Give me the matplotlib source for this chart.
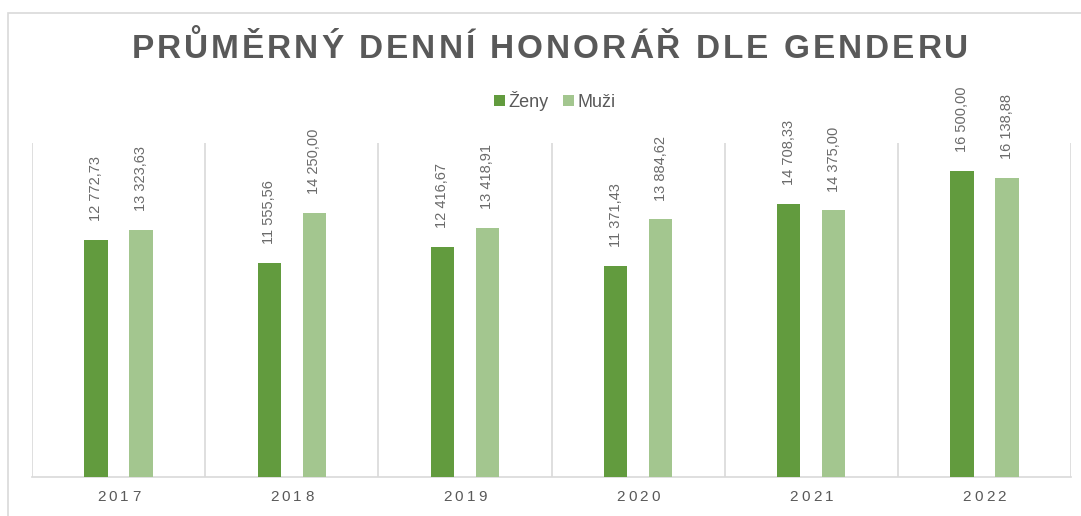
import matplotlib.pyplot as plt
import numpy as np
from matplotlib.patches import Rectangle

# data
roky = ["2017", "2018", "2019", "2020", "2021", "2022"]
zeny = [12772.73, 11555.56, 12416.67, 11371.43, 14708.33, 16500.00]
muzi = [13323.63, 14250.00, 13418.91, 13884.62, 14375.00, 16138.88]
titulek = "PRŮMĚRNÝ DENNÍ HONORÁŘ DLE GENDERU"

c_zeny = "#629b3e"
c_muzi = "#a3c68f"
c_text = "#595959"
c_label = "#6a6a6a"
c_grid = "#d9d9d9"

W, H = 1081, 516


def fmt(v):
    # 12 772,73
    s = f"{v:,.2f}"
    return s.replace(",", " ").replace(".", ",")


plt.rcParams['font.family'] = ['Liberation Sans', 'DejaVu Sans']

fig = plt.figure(figsize=(W / 100, H / 100), dpi=100)
renderer = fig.canvas.get_renderer()


def text_w(s, **kw):
    t = fig.text(0, 0, "|" + s + "|", **kw)
    w = t.get_window_extent(renderer).width
    t.remove()
    t = fig.text(0, 0, "||", **kw)
    w -= t.get_window_extent(renderer).width
    t.remove()
    return w


def spaced_text(xc, y, s, spacing, **kw):
    # text with letter spacing, centred at pixel x = xc, y = y (from top)
    total = text_w(s, **kw) + spacing * (len(s) - 1)
    x0 = xc - total / 2
    for i, ch in enumerate(s):
        xi = x0 + text_w(s[:i], **kw) + spacing * i
        fig.text(xi / W, 1 - y / H, ch, ha="left", va="center", **kw)


ax = fig.add_axes([32 / W, 1 - 477 / H, (1071 - 32) / W, (477 - 143) / H])

# outer frame of the chart (partially cropped in the reference)
fig.patches.append(Rectangle((8 / W, -0.05), 1.1, 1 - 13 / H + 0.05,
                             transform=fig.transFigure, fill=False,
                             edgecolor="#d9d9d9", linewidth=1.2))

x = np.arange(len(roky))
off = 0.13
w = 0.135
ax.bar(x - off, zeny, w, color=c_zeny, label="Ženy", zorder=3)
ax.bar(x + off, muzi, w, color=c_muzi, label="Muži", zorder=3)

for xi, v in zip(x, zeny):
    ax.annotate(fmt(v), (xi - off, v), xytext=(0, 13.5), textcoords="offset points",
                rotation=90, ha="center", va="bottom", fontsize=10.5, color=c_label)
for xi, v in zip(x, muzi):
    ax.annotate(fmt(v), (xi + off, v), xytext=(0, 13.5), textcoords="offset points",
                rotation=90, ha="center", va="bottom", fontsize=10.5, color=c_label)

ax.set_xlim(-0.5, len(roky) - 0.5)
ax.set_ylim(0, 18000)
ax.set_xticks([])
ax.set_yticks([])

# vertical category separators
for b in np.arange(-0.5, len(roky), 1.0):
    ax.axvline(b, color=c_grid, linewidth=1.2, zorder=1)

for s in ["top", "left", "right"]:
    ax.spines[s].set_visible(False)
ax.spines["bottom"].set_color(c_grid)
ax.spines["bottom"].set_linewidth(1.2)

# year labels with letter spacing
for xi, r in zip(x, roky):
    px = ax.transData.transform((xi, 0))[0]
    spaced_text(px, 497, r, 3.2, fontsize=11, color=c_text)

spaced_text(550, 49, titulek, 3.0, fontsize=24, fontweight="bold", color=c_text)

fig.legend(loc="center", bbox_to_anchor=(0.513, 1 - 101 / H), ncol=2,
           frameon=False, fontsize=13, labelcolor=c_text, handlelength=0.6,
           handleheight=0.6, handletextpad=0.2, columnspacing=0.8)

fig.savefig("out.png", dpi=100)
